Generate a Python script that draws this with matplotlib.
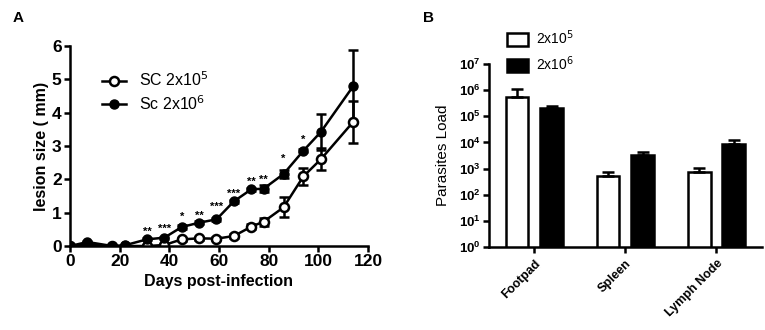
import numpy as np
import matplotlib
matplotlib.use("Agg")
import matplotlib.pyplot as plt
from matplotlib.ticker import FixedLocator, NullLocator

plt.rcParams['font.family'] = ['Liberation Sans', 'DejaVu Sans']

# panel A - lesion size over time
days = [0, 7, 17, 22, 31, 38, 45, 52, 59, 66, 73, 78, 86, 94, 101, 114]
lesion_lo = [0, 0.05, 0, 0, 0, 0.03, 0.2, 0.23, 0.22, 0.3, 0.58, 0.73, 1.16, 2.09, 2.6, 3.72]
lesion_lo_err = [0, 0.03, 0, 0, 0.03, 0.03, 0.05, 0.05, 0.05, 0.05, 0.08, 0.12, 0.3, 0.25, 0.33, 0.62]
lesion_hi = [0, 0.12, 0, 0.02, 0.2, 0.25, 0.57, 0.7, 0.8, 1.34, 1.7, 1.72, 2.16, 2.86, 3.42, 4.79]
lesion_hi_err = [0, 0.03, 0, 0, 0.03, 0.03, 0.05, 0.05, 0.05, 0.05, 0.05, 0.1, 0.12, 0.05, 0.55, 1.1]
sig_days = [31, 38, 45, 52, 59, 66, 73, 78, 86, 94]
sig_y = [0.42, 0.52, 0.88, 0.92, 1.18, 1.58, 1.92, 2.0, 2.62, 3.18]
sig_marks = ['**', '***', '*', '**', '***', '***', '**', '**', '*', '*']

# panel B - parasite load
organs = ['Footpad', 'Spleen', 'Lymph Node']
load_lo = [5.4e5, 520, 760]
load_lo_err = [5.3e5, 240, 290]
load_hi = [2.0e5, 3300, 8500]
load_hi_err = [0.5e5, 900, 3800]

fig = plt.figure(figsize=(7.65, 3.3), dpi=100)

ax1 = fig.add_axes([0.0915, 0.2545, 0.3895, 0.606])
kw = dict(color='black', lw=1.8, capsize=3.5, capthick=1.8, elinewidth=1.8, ms=6.5)
ax1.errorbar(days, lesion_lo, yerr=lesion_lo_err, marker='o', mfc='white', mew=1.8, **kw)
ax1.errorbar(days, lesion_hi, yerr=lesion_hi_err, marker='o', mfc='black', **kw)
# legend handles without the error bar stems
h1, = ax1.plot([], [], color='black', lw=1.8, marker='o', mfc='white', mew=1.8, ms=6.5)
h2, = ax1.plot([], [], color='black', lw=1.8, marker='o', mfc='black', ms=6.5)
for d, y, s in zip(sig_days, sig_y, sig_marks):
    ax1.text(d, y, s, ha='center', va='center', fontsize=8, fontweight='bold')
ax1.set_xlim(0, 120)
ax1.set_ylim(0, 6)
ax1.set_xticks(range(0, 121, 20))
ax1.set_yticks(range(0, 7))
ax1.set_xlabel('Days post-infection', fontsize=11.5, fontweight='bold', labelpad=3)
ax1.set_ylabel('lesion size ( mm)', fontsize=11.5, fontweight='bold', labelpad=2)
ax1.legend([h1, h2], ['SC 2x10$^5$', 'Sc 2x10$^6$'], loc='upper left',
           bbox_to_anchor=(0.06, 0.95), frameon=False,
           fontsize=11.5, handlelength=1.5, labelspacing=0.3)

ax2 = fig.add_axes([0.639, 0.2515, 0.357, 0.5545])
x = np.arange(len(organs))
w = 0.25
ax2.bar(x - 0.19, load_lo, w, color='white', edgecolor='black', lw=1.8, label='2x10$^5$',
        yerr=[[0] * 3, load_lo_err], error_kw=dict(lw=1.8, capsize=4, capthick=1.8))
ax2.bar(x + 0.19, load_hi, w, color='black', edgecolor='black', lw=1.8, label='2x10$^6$',
        yerr=[[0] * 3, load_hi_err], error_kw=dict(lw=1.8, capsize=4, capthick=1.8))
ax2.set_yscale('log')
ax2.set_ylim(1, 1e7)
ax2.set_xlim(-0.5, 2.5)
ax2.yaxis.set_major_locator(FixedLocator([10.0 ** k for k in range(8)]))
ax2.yaxis.set_minor_locator(NullLocator())
ax2.set_xticks(x)
ax2.set_xticklabels(organs, rotation=45, ha='right', rotation_mode='anchor',
                    fontsize=9, fontweight='bold')
ax2.set_ylabel('Parasites Load', fontsize=11, labelpad=6)
ax2.legend(loc='lower left', bbox_to_anchor=(0.02, 0.88), frameon=False, fontsize=10,
           handlelength=1.5, handleheight=1.1, labelspacing=0.55, handletextpad=0.6)

for ax in (ax1, ax2):
    for s in ('top', 'right'):
        ax.spines[s].set_visible(False)
    for s in ('left', 'bottom'):
        ax.spines[s].set_linewidth(1.8)
    ax.tick_params(width=1.8, length=4)
ax1.tick_params(labelsize=12.5, pad=2)
for t in ax1.get_xticklabels() + ax1.get_yticklabels():
    t.set_fontweight('bold')
ax2.tick_params(axis='y', labelsize=9.5, pad=2)
for t in ax2.get_yticklabels():
    t.set_fontweight('bold')

fig.text(0.017, 0.945, 'A', fontsize=11, fontweight='bold', va='center')
fig.text(0.553, 0.945, 'B', fontsize=11, fontweight='bold', va='center')

fig.savefig('out.png', dpi=100)
